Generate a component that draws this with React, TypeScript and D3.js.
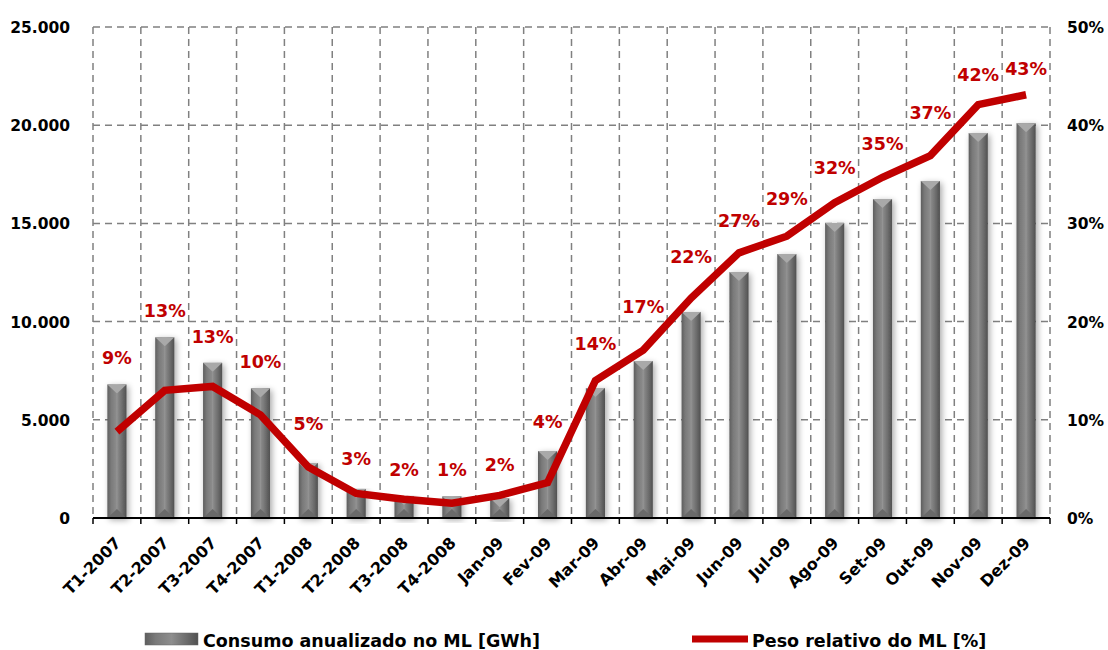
import React from "react";
import * as d3 from "d3";

const categories = ["T1-2007","T2-2007","T3-2007","T4-2007","T1-2008","T2-2008","T3-2008","T4-2008","Jan-09","Fev-09","Mar-09","Abr-09","Mai-09","Jun-09","Jul-09","Ago-09","Set-09","Out-09","Nov-09","Dez-09"];
const consumo = [6800,9200,7900,6600,2800,1480,1120,1100,1000,3410,6620,7990,10490,12520,13440,15020,16240,17160,19600,20100];
const peso = [8.8,13.0,13.4,10.5,5.2,2.5,1.9,1.5,2.3,3.6,14.0,17.1,22.4,27.0,28.7,32.1,34.7,36.9,42.1,43.1];
const pesoLabels = ["9%","13%","13%","10%","5%","3%","2%","1%","2%","4%","14%","17%","22%","27%","29%","32%","35%","37%","42%","43%"];
const leftTicks = [0,5000,10000,15000,20000,25000];
const rightTicks = [0,10,20,30,40,50];
const legendBar = "Consumo anualizado no ML [GWh]";
const legendLine = "Peso relativo do ML [%]";

const FONT = "'DejaVu Sans', Verdana, sans-serif";

export default function App() {
  const left = 93, right = 1050, top = 27, bottom = 518;
  const x = d3.scaleBand<string>().domain(categories).range([left, right]).padding(0);
  const yL = d3.scaleLinear().domain([0, 25000]).range([bottom, top]);
  const yR = d3.scaleLinear().domain([0, 50]).range([bottom, top]);
  const bw = x.bandwidth() * 0.4;
  const cx = (c: string) => (x(c) as number) + x.bandwidth() / 2;
  const line = d3.line<number>().x((_, i) => cx(categories[i])).y(d => yR(d));
  const fmt = (v: number) => d3.format(",")(v).replace(/,/g, ".");
  const grid = "#808080";
  const boundaries = categories.map(c => x(c) as number).concat([right]);
  const n = categories.length;
  const lineYAt = (i: number, off: number) => {
    const y0 = yR(peso[i]);
    const j = off > 0 ? i + 1 : i - 1;
    if (j < 0 || j >= n) return y0;
    return y0 + (yR(peso[j]) - y0) * Math.abs(off) / x.bandwidth();
  };

  return (
    <svg width={1108} height={650} style={{ position: "absolute", left: 0, top: 0, background: "#fff" }}>
      <defs>
        <linearGradient id="barG" x1="0" x2="1" y1="0" y2="0">
          <stop offset="0" stopColor="#5e5e5e" />
          <stop offset="0.2" stopColor="#7a7a7a" />
          <stop offset="0.5" stopColor="#8e8e8e" />
          <stop offset="0.8" stopColor="#6a6a6a" />
          <stop offset="1" stopColor="#505050" />
        </linearGradient>
        <filter id="sh" x="-50%" y="-10%" width="200%" height="130%">
          <feGaussianBlur in="SourceAlpha" stdDeviation="3" />
          <feOffset dx="2" dy="2" />
          <feComponentTransfer><feFuncA type="linear" slope="0.35" /></feComponentTransfer>
          <feMerge><feMergeNode /><feMergeNode in="SourceGraphic" /></feMerge>
        </filter>
      </defs>
      {/* grid */}
      {leftTicks.slice(1).map(t => (
        <line key={"h" + t} x1={left} x2={right} y1={yL(t)} y2={yL(t)} stroke={grid} strokeWidth={1.5} strokeDasharray="7,5" />
      ))}
      {boundaries.map((b, i) => (
        <line key={"v" + i} x1={b} x2={b} y1={top} y2={bottom} stroke={grid} strokeWidth={1.5} strokeDasharray="7,5" />
      ))}
      {/* bars */}
      {categories.map((c, i) => {
        const x0 = cx(c) - bw / 2;
        const y0 = yL(consumo[i]);
        const h = bottom - y0;
        const tri = Math.min(9, h / 2);
        return (
          <g key={"b" + c} filter="url(#sh)">
            <rect x={x0} y={y0} width={bw} height={h} fill="url(#barG)" />
            <path d={`M${x0},${y0} L${x0 + bw},${y0} L${x0 + bw / 2},${y0 + tri} Z`} fill="#a9a9a9" />
            <path d={`M${x0},${bottom} L${x0 + bw},${bottom} L${x0 + bw / 2},${bottom - tri} Z`} fill="#6a6a6a" />
            <line x1={x0 + bw / 2} x2={x0 + bw / 2} y1={y0 + tri} y2={bottom - tri} stroke="#9a9a9a" strokeWidth={1} opacity={0.5} />
          </g>
        );
      })}
      {/* axis */}
      <line x1={left} x2={right} y1={bottom} y2={bottom} stroke="#000" strokeWidth={2} />
      {boundaries.map((b, i) => (
        <line key={"t" + i} x1={b} x2={b} y1={bottom} y2={bottom + 6} stroke="#000" strokeWidth={1.5} />
      ))}
      {/* line */}
      <path d={line(peso) as string} fill="none" stroke="#c00000" strokeWidth={7.5} strokeLinejoin="miter" />
      {/* data labels */}
      {categories.map((c, i) => {
        const yy = Math.min(yL(consumo[i]), lineYAt(i, -16), lineYAt(i, 0), lineYAt(i, 16)) - 20;
        return (
          <text key={"l" + c} x={cx(c)} y={yy} textAnchor="middle" fill="#c00000" fontFamily={FONT} fontWeight="bold" fontSize={17.5}>{pesoLabels[i]}</text>
        );
      })}
      {/* left ticks */}
      {leftTicks.map(t => (
        <text key={"lt" + t} x={70} y={yL(t) + 6} textAnchor="end" fontFamily={FONT} fontWeight="bold" fontSize={15.5} fill="#000">{fmt(t)}</text>
      ))}
      {rightTicks.map(t => (
        <text key={"rt" + t} x={1067} y={yR(t) + 6} textAnchor="start" fontFamily={FONT} fontWeight="bold" fontSize={15.5} fill="#000">{t + "%"}</text>
      ))}
      {/* x labels */}
      {categories.map(c => (
        <text key={"x" + c} transform={`translate(${cx(c) + 5},${bottom + 26}) rotate(-45)`} textAnchor="end" fontFamily={FONT} fontWeight="bold" fontSize={16} fill="#000">{c}</text>
      ))}
      {/* legend */}
      <rect x={145} y={633} width={53} height={12} fill="url(#barG)" stroke="#666" strokeWidth={0.5} />
      <text x={203} y={647} fontFamily={FONT} fontWeight="bold" fontSize={17.5} fill="#000">{legendBar}</text>
      <line x1={692} x2={748} y1={639} y2={639} stroke="#c00000" strokeWidth={7} />
      <text x={752} y={647} fontFamily={FONT} fontWeight="bold" fontSize={17.5} fill="#000">{legendLine}</text>
    </svg>
  );
}
